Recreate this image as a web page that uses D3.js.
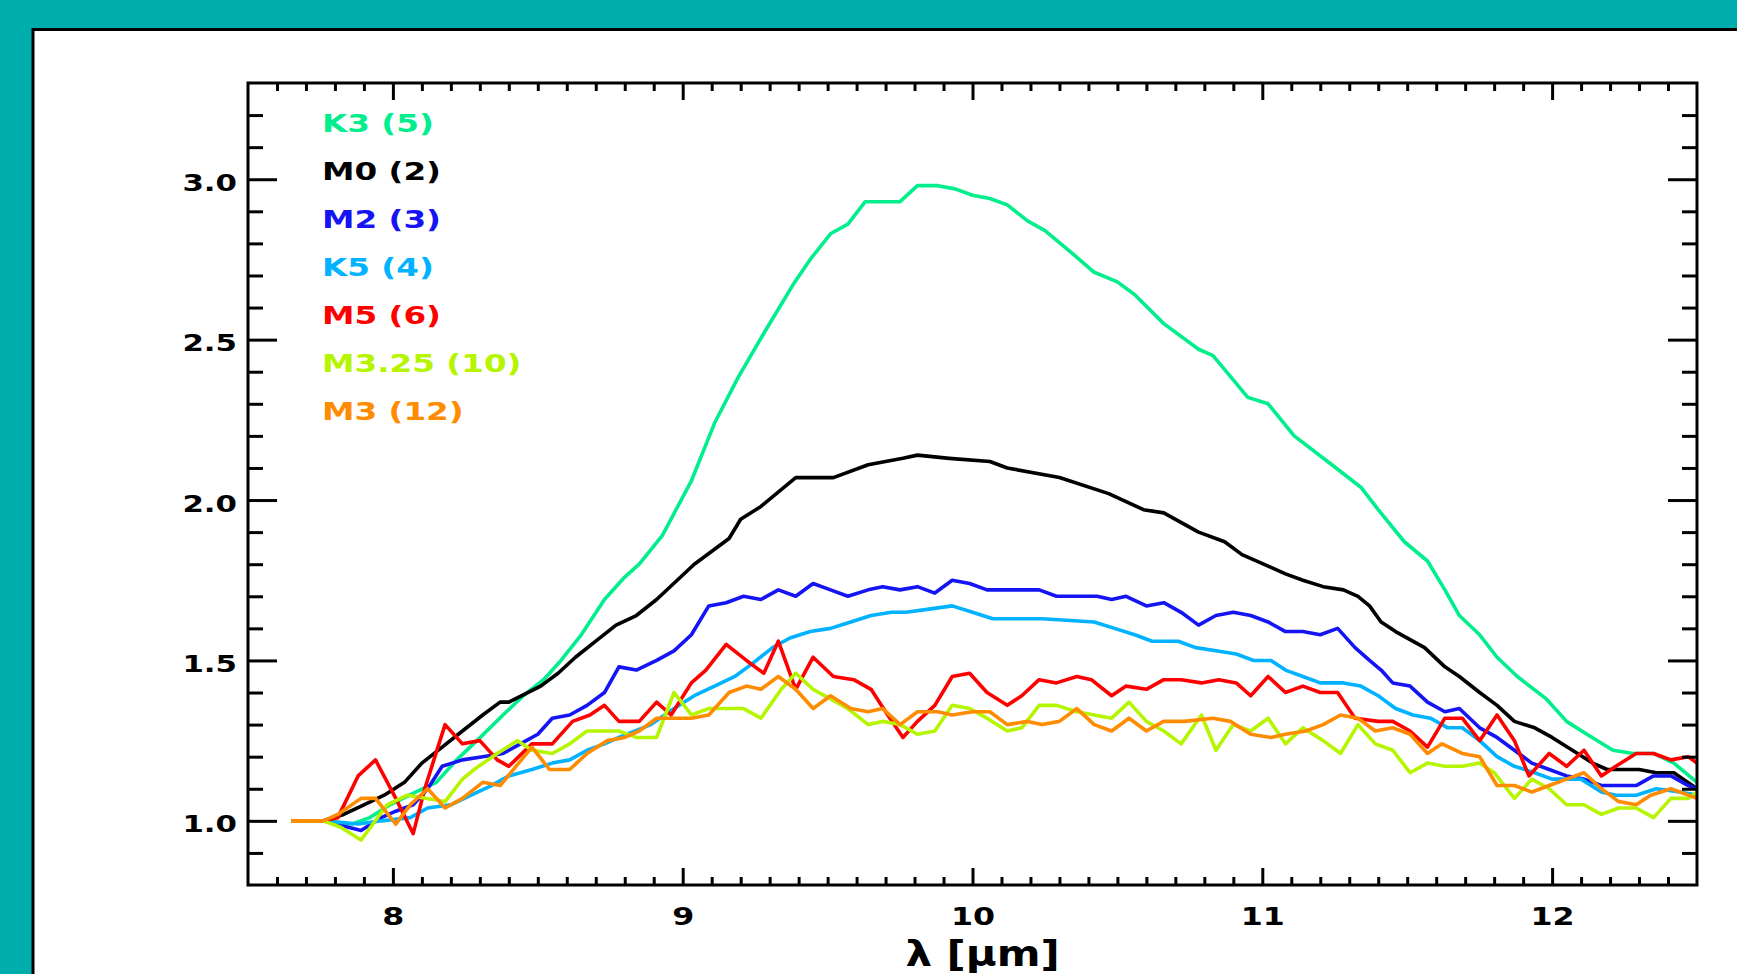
<!DOCTYPE html>
<html>
<head>
<meta charset="utf-8">
<script src="https://cdn.jsdelivr.net/npm/d3@7"></script>
<style>
  body { margin: 0; background: #00adad; overflow: hidden; }
  svg text { font-family: "DejaVu Sans", sans-serif; font-weight: bold; }
</style>
</head>
<body>
<svg class="spectra" width="1737" height="974"></svg>
<script>
// legend / series order (drawing order too)
var seriesNames = ["K3 (5)", "M0 (2)", "M2 (3)", "K5 (4)", "M5 (6)", "M3.25 (10)", "M3 (12)"]
var seriesColors = ["#00ee8c", "#000000", "#1414f5", "#00b2ff", "#ff0000", "#b6f500", "#ff8c00"]

var k3Wave = [7.65, 7.76, 7.86, 7.92, 7.99, 8.08, 8.15, 8.22, 8.29, 8.38, 8.45, 8.52, 8.58, 8.65, 8.73, 8.80, 8.85, 8.93, 9.03, 9.11, 9.19, 9.28, 9.38, 9.44, 9.51, 9.57, 9.63, 9.75, 9.81, 9.88, 9.94, 10.00, 10.06, 10.12, 10.19, 10.25, 10.33, 10.42, 10.50, 10.56, 10.66, 10.78, 10.83, 10.95, 11.02, 11.11, 11.24, 11.34, 11.40, 11.49, 11.57, 11.63, 11.68, 11.75, 11.81, 11.88, 11.98, 12.05, 12.12, 12.21, 12.28, 12.35, 12.42, 12.50]
var k3Flux = [1.00, 1.00, 0.99, 1.01, 1.05, 1.09, 1.12, 1.19, 1.25, 1.33, 1.39, 1.44, 1.50, 1.58, 1.69, 1.76, 1.80, 1.89, 2.06, 2.24, 2.38, 2.52, 2.67, 2.75, 2.83, 2.86, 2.93, 2.93, 2.98, 2.98, 2.97, 2.95, 2.94, 2.92, 2.87, 2.84, 2.78, 2.71, 2.68, 2.64, 2.55, 2.47, 2.45, 2.32, 2.30, 2.20, 2.11, 2.04, 1.97, 1.87, 1.81, 1.72, 1.64, 1.58, 1.51, 1.45, 1.38, 1.31, 1.27, 1.22, 1.21, 1.21, 1.18, 1.12]

var m0Wave = [7.65, 7.76, 7.83, 7.90, 7.97, 8.04, 8.10, 8.17, 8.24, 8.31, 8.37, 8.40, 8.51, 8.57, 8.63, 8.70, 8.77, 8.84, 8.91, 9.04, 9.16, 9.20, 9.27, 9.39, 9.52, 9.64, 9.76, 9.81, 9.92, 10.06, 10.12, 10.30, 10.47, 10.59, 10.66, 10.78, 10.87, 10.93, 11.03, 11.08, 11.14, 11.21, 11.28, 11.33, 11.37, 11.41, 11.46, 11.56, 11.63, 11.68, 11.75, 11.81, 11.87, 11.94, 12.00, 12.07, 12.14, 12.19, 12.30, 12.36, 12.42, 12.50]
var m0Flux = [1.00, 1.00, 1.02, 1.05, 1.08, 1.12, 1.18, 1.23, 1.28, 1.33, 1.37, 1.37, 1.42, 1.46, 1.51, 1.56, 1.61, 1.64, 1.69, 1.80, 1.88, 1.94, 1.98, 2.07, 2.07, 2.11, 2.13, 2.14, 2.13, 2.12, 2.10, 2.07, 2.02, 1.97, 1.96, 1.90, 1.87, 1.83, 1.79, 1.77, 1.75, 1.73, 1.72, 1.70, 1.67, 1.62, 1.59, 1.54, 1.48, 1.45, 1.40, 1.36, 1.31, 1.29, 1.26, 1.22, 1.18, 1.16, 1.16, 1.15, 1.15, 1.10]

var m2Wave = [7.65, 7.76, 7.89, 7.96, 8.01, 8.07, 8.12, 8.17, 8.24, 8.31, 8.38, 8.44, 8.50, 8.55, 8.61, 8.67, 8.73, 8.78, 8.84, 8.91, 8.97, 9.03, 9.09, 9.15, 9.21, 9.27, 9.33, 9.39, 9.45, 9.51, 9.57, 9.64, 9.69, 9.75, 9.81, 9.87, 9.93, 9.99, 10.05, 10.23, 10.29, 10.43, 10.48, 10.53, 10.60, 10.66, 10.72, 10.78, 10.84, 10.90, 10.96, 11.02, 11.08, 11.14, 11.20, 11.26, 11.32, 11.37, 11.41, 11.45, 11.51, 11.57, 11.63, 11.68, 11.75, 11.81, 11.87, 11.93, 11.99, 12.05, 12.11, 12.17, 12.29, 12.35, 12.41, 12.47, 12.50]
var m2Flux = [1.00, 1.00, 0.97, 1.01, 1.03, 1.05, 1.10, 1.17, 1.19, 1.20, 1.21, 1.24, 1.27, 1.32, 1.33, 1.36, 1.40, 1.48, 1.47, 1.50, 1.53, 1.58, 1.67, 1.68, 1.70, 1.69, 1.72, 1.70, 1.74, 1.72, 1.70, 1.72, 1.73, 1.72, 1.73, 1.71, 1.75, 1.74, 1.72, 1.72, 1.70, 1.70, 1.69, 1.70, 1.67, 1.68, 1.65, 1.61, 1.64, 1.65, 1.64, 1.62, 1.59, 1.59, 1.58, 1.60, 1.54, 1.50, 1.47, 1.43, 1.42, 1.37, 1.34, 1.35, 1.29, 1.26, 1.22, 1.18, 1.16, 1.14, 1.13, 1.11, 1.11, 1.14, 1.14, 1.11, 1.10]

var k5Wave = [7.65, 7.76, 7.88, 7.96, 8.06, 8.12, 8.20, 8.27, 8.34, 8.40, 8.48, 8.55, 8.61, 8.67, 8.73, 8.78, 8.89, 8.97, 9.04, 9.11, 9.18, 9.24, 9.31, 9.37, 9.44, 9.51, 9.58, 9.65, 9.72, 9.77, 9.85, 9.93, 10.00, 10.07, 10.24, 10.42, 10.49, 10.56, 10.62, 10.71, 10.77, 10.84, 10.91, 10.97, 11.03, 11.08, 11.14, 11.20, 11.28, 11.34, 11.40, 11.46, 11.52, 11.58, 11.64, 11.69, 11.75, 11.81, 11.87, 11.94, 12.00, 12.10, 12.17, 12.22, 12.29, 12.36, 12.44, 12.50]
var k5Flux = [1.00, 1.00, 0.99, 1.00, 1.01, 1.04, 1.05, 1.08, 1.11, 1.14, 1.16, 1.18, 1.19, 1.22, 1.24, 1.26, 1.30, 1.35, 1.39, 1.42, 1.45, 1.49, 1.54, 1.57, 1.59, 1.60, 1.62, 1.64, 1.65, 1.65, 1.66, 1.67, 1.65, 1.63, 1.63, 1.62, 1.60, 1.58, 1.56, 1.56, 1.54, 1.53, 1.52, 1.50, 1.50, 1.47, 1.45, 1.43, 1.43, 1.42, 1.39, 1.35, 1.33, 1.32, 1.29, 1.29, 1.25, 1.20, 1.17, 1.15, 1.13, 1.13, 1.09, 1.08, 1.08, 1.10, 1.09, 1.08]

var m5Wave = [7.65, 7.76, 7.81, 7.88, 7.94, 8.01, 8.07, 8.11, 8.18, 8.24, 8.30, 8.36, 8.40, 8.48, 8.55, 8.62, 8.68, 8.73, 8.78, 8.85, 8.91, 8.96, 9.03, 9.08, 9.15, 9.22, 9.28, 9.33, 9.39, 9.45, 9.52, 9.59, 9.65, 9.70, 9.76, 9.81, 9.87, 9.93, 9.99, 10.05, 10.12, 10.17, 10.23, 10.29, 10.36, 10.41, 10.48, 10.53, 10.60, 10.66, 10.72, 10.79, 10.85, 10.91, 10.96, 11.02, 11.08, 11.14, 11.20, 11.26, 11.32, 11.40, 11.45, 11.51, 11.57, 11.63, 11.69, 11.75, 11.81, 11.87, 11.92, 11.99, 12.05, 12.11, 12.17, 12.22, 12.29, 12.35, 12.41, 12.47, 12.50]
var m5Flux = [1.00, 1.00, 1.01, 1.14, 1.19, 1.07, 0.96, 1.10, 1.30, 1.24, 1.25, 1.19, 1.17, 1.24, 1.24, 1.31, 1.33, 1.36, 1.31, 1.31, 1.37, 1.33, 1.43, 1.47, 1.55, 1.50, 1.46, 1.56, 1.41, 1.51, 1.45, 1.44, 1.41, 1.34, 1.26, 1.31, 1.36, 1.45, 1.46, 1.40, 1.36, 1.39, 1.44, 1.43, 1.45, 1.44, 1.39, 1.42, 1.41, 1.44, 1.44, 1.43, 1.44, 1.43, 1.39, 1.45, 1.40, 1.42, 1.40, 1.40, 1.32, 1.31, 1.31, 1.28, 1.23, 1.32, 1.32, 1.25, 1.33, 1.25, 1.14, 1.21, 1.17, 1.22, 1.14, 1.17, 1.21, 1.21, 1.19, 1.20, 1.18]

var m325Wave = [7.65, 7.76, 7.82, 7.89, 7.98, 8.05, 8.18, 8.24, 8.28, 8.36, 8.43, 8.48, 8.55, 8.61, 8.67, 8.73, 8.78, 8.84, 8.91, 8.97, 9.03, 9.09, 9.15, 9.21, 9.27, 9.34, 9.39, 9.45, 9.51, 9.57, 9.64, 9.69, 9.75, 9.81, 9.87, 9.93, 9.99, 10.05, 10.12, 10.17, 10.23, 10.29, 10.36, 10.42, 10.48, 10.54, 10.60, 10.66, 10.72, 10.79, 10.84, 10.90, 10.96, 11.02, 11.08, 11.14, 11.21, 11.27, 11.33, 11.39, 11.45, 11.51, 11.57, 11.63, 11.69, 11.75, 11.80, 11.87, 11.93, 11.99, 12.05, 12.11, 12.17, 12.23, 12.29, 12.35, 12.41, 12.47, 12.50]
var m325Flux = [1.00, 1.00, 0.98, 0.94, 1.05, 1.08, 1.06, 1.13, 1.16, 1.21, 1.25, 1.22, 1.21, 1.24, 1.28, 1.28, 1.28, 1.26, 1.26, 1.40, 1.33, 1.35, 1.35, 1.35, 1.32, 1.41, 1.46, 1.41, 1.38, 1.35, 1.30, 1.31, 1.30, 1.27, 1.28, 1.36, 1.35, 1.32, 1.28, 1.29, 1.36, 1.36, 1.34, 1.33, 1.32, 1.37, 1.31, 1.28, 1.24, 1.33, 1.22, 1.30, 1.28, 1.32, 1.24, 1.29, 1.25, 1.21, 1.30, 1.24, 1.22, 1.15, 1.18, 1.17, 1.17, 1.18, 1.15, 1.07, 1.13, 1.10, 1.05, 1.05, 1.02, 1.04, 1.04, 1.01, 1.07, 1.07, 1.09]

var m3Wave = [7.65, 7.76, 7.81, 7.89, 7.94, 8.01, 8.06, 8.12, 8.18, 8.24, 8.31, 8.37, 8.48, 8.54, 8.61, 8.67, 8.74, 8.80, 8.85, 8.91, 9.03, 9.09, 9.16, 9.22, 9.27, 9.33, 9.39, 9.45, 9.51, 9.58, 9.64, 9.69, 9.75, 9.81, 9.88, 9.93, 10.00, 10.06, 10.12, 10.19, 10.24, 10.30, 10.36, 10.42, 10.48, 10.54, 10.60, 10.66, 10.73, 10.83, 10.89, 10.96, 11.03, 11.08, 11.15, 11.21, 11.27, 11.33, 11.39, 11.45, 11.51, 11.57, 11.62, 11.69, 11.75, 11.81, 11.87, 11.93, 11.99, 12.05, 12.11, 12.17, 12.23, 12.29, 12.34, 12.41, 12.47, 12.50]
var m3Flux = [1.00, 1.00, 1.02, 1.07, 1.07, 0.99, 1.05, 1.10, 1.04, 1.07, 1.12, 1.11, 1.23, 1.16, 1.16, 1.21, 1.25, 1.26, 1.28, 1.32, 1.32, 1.33, 1.40, 1.42, 1.41, 1.45, 1.41, 1.35, 1.39, 1.35, 1.34, 1.35, 1.30, 1.34, 1.34, 1.33, 1.34, 1.34, 1.30, 1.31, 1.30, 1.31, 1.35, 1.30, 1.28, 1.32, 1.28, 1.31, 1.31, 1.32, 1.31, 1.27, 1.26, 1.27, 1.28, 1.30, 1.33, 1.32, 1.28, 1.29, 1.27, 1.21, 1.24, 1.21, 1.20, 1.11, 1.11, 1.09, 1.11, 1.13, 1.15, 1.10, 1.06, 1.05, 1.08, 1.10, 1.08, 1.07]

var xMajorTicks = [8, 9, 10, 11, 12]
var yMajorTicks = [1.0, 1.5, 2.0, 2.5, 3.0]
var xTitle = "\u03bb [\u03bcm]"

var waves = [k3Wave, m0Wave, m2Wave, k5Wave, m5Wave, m325Wave, m3Wave]
var fluxes = [k3Flux, m0Flux, m2Flux, k5Flux, m5Flux, m325Flux, m3Flux]

var frame = {left: 248, right: 1697, top: 83, bottom: 885}

var x = d3.scaleLinear().domain([7.5, 12.5]).range([frame.left, frame.right])
var y = d3.scaleLinear().domain([0.8, 3.3]).range([frame.bottom, frame.top])

var xMinorTicks = d3.range(76, 125).filter(function(d) { return d % 10 !== 0 }).map(function(d) { return d / 10 })
var yMinorTicks = d3.range(9, 33).filter(function(d) { return d % 5 !== 0 }).map(function(d) { return d / 10 })

var svg = d3.select(".spectra")

// white panel on the teal background
svg.append("rect")
    .attr("x", 33)
    .attr("y", 29.5)
    .attr("width", 1800)
    .attr("height", 1000)
    .attr("fill", "#fff")
    .attr("stroke", "#000")
    .attr("stroke-width", 3)

svg.append("clipPath")
    .attr("id", "plot-clip")
  .append("rect")
    .attr("x", frame.left)
    .attr("y", frame.top)
    .attr("width", frame.right - frame.left)
    .attr("height", frame.bottom - frame.top)

var line = d3.line()
    .x(function(d) { return x(d[0]) })
    .y(function(d) { return y(d[1]) })

var lines = svg.append("g").attr("clip-path", "url(#plot-clip)")

seriesNames.forEach(function(name, i) {
  lines.append("path")
    .datum(d3.zip(waves[i], fluxes[i]))
    .attr("fill", "none")
    .attr("stroke", seriesColors[i])
    .attr("stroke-width", 3.6)
    .attr("stroke-linejoin", "round")
    .attr("d", line)
})

// tick marks, all pointing inward
function ticks(axis, transform, size, values) {
  svg.append("g")
    .attr("transform", transform)
    .call(axis.tickValues(values).tickSize(size).tickFormat(""))
    .call(function(g) { g.select(".domain").remove() })
    .selectAll("line")
      .attr("stroke", "#000")
      .attr("stroke-width", 3)
}

ticks(d3.axisBottom(x), `translate(0,${frame.bottom})`, -17, xMajorTicks)
ticks(d3.axisBottom(x), `translate(0,${frame.bottom})`, -8, xMinorTicks)
ticks(d3.axisTop(x), `translate(0,${frame.top})`, -17, xMajorTicks)
ticks(d3.axisTop(x), `translate(0,${frame.top})`, -8, xMinorTicks)
ticks(d3.axisLeft(y), `translate(${frame.left},0)`, -29, yMajorTicks)
ticks(d3.axisLeft(y), `translate(${frame.left},0)`, -15, yMinorTicks)
ticks(d3.axisRight(y), `translate(${frame.right},0)`, -29, yMajorTicks)
ticks(d3.axisRight(y), `translate(${frame.right},0)`, -15, yMinorTicks)

svg.append("rect")
    .attr("x", frame.left)
    .attr("y", frame.top)
    .attr("width", frame.right - frame.left)
    .attr("height", frame.bottom - frame.top)
    .attr("fill", "none")
    .attr("stroke", "#000")
    .attr("stroke-width", 3)

// tick labels
svg.append("g")
    .attr("transform", `translate(0,${frame.bottom})`)
    .call(d3.axisBottom(x).tickValues(xMajorTicks).tickSize(0).tickFormat(d3.format("d")))
    .call(function(g) { g.select(".domain").remove() })
  .selectAll("text")
    .attr("font-family", "DejaVu Sans")
    .attr("font-weight", "bold")
    .attr("font-size", 24)
    .attr("fill", "#000")
    .attr("y", 40)
    .attr("dy", null)
    .attr("transform", "scale(1.32,1)")

svg.append("g")
    .attr("transform", `translate(${frame.left},0)`)
    .call(d3.axisLeft(y).tickValues(yMajorTicks).tickSize(0).tickFormat(d3.format(".1f")))
    .call(function(g) { g.select(".domain").remove() })
  .selectAll("text")
    .attr("font-family", "DejaVu Sans")
    .attr("font-weight", "bold")
    .attr("font-size", 23)
    .attr("fill", "#000")
    .attr("x", -11 / 1.34)
    .attr("dy", 11)
    .attr("transform", "scale(1.34,1)")

// axis title at the bottom of the window
svg.append("text")
    .attr("transform", `translate(${(frame.left + frame.right) / 2 + 10},966) scale(1.2,1)`)
    .attr("text-anchor", "middle")
    .attr("font-size", 35)
    .attr("fill", "#000")
    .text(xTitle)

// legend
var legend = svg.append("g")
    .attr("transform", "translate(322,132)")

legend.selectAll("text")
    .data(seriesNames)
  .enter().append("text")
    .attr("transform", function(d, i) { return `translate(0,${i * 48}) scale(1.36,1)` })
    .attr("font-size", 24)
    .attr("fill", function(d, i) { return seriesColors[i] })
    .text(function(d) { return d })
</script>
</body>
</html>
